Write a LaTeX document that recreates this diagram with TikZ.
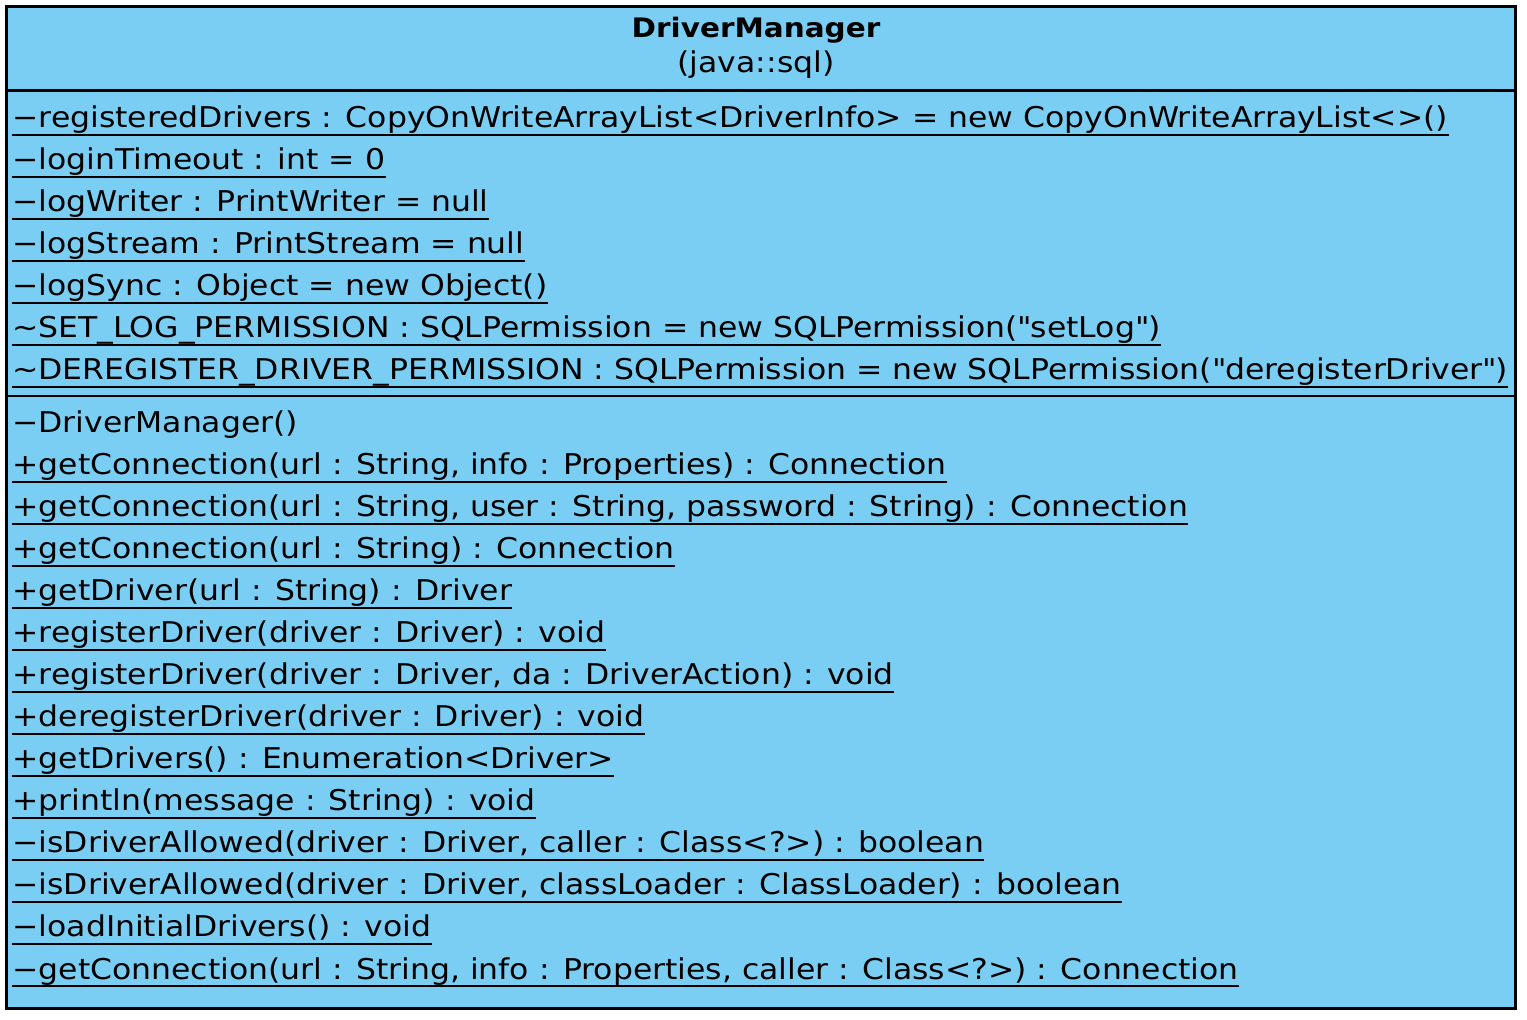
\documentclass[tikz,border=0pt]{standalone}
\usepackage{fontspec}
\setmainfont{DejaVu Sans}[FakeStretch=1.1]
\usetikzlibrary{positioning}
\definecolor{classblue}{RGB}{122,206,243}
\tikzset{
    classbox/.style={
        draw,
        line width=1.6pt,
        fill=classblue},
    compart/.style={
        line width=1.1pt},
    member/.style={
        anchor=base west,
        inner sep=0pt,
        font=\fontsize{14.3}{17}\selectfont},
    classname/.style={
        anchor=base,
        inner sep=0pt,
        font=\fontsize{13.4}{17}\selectfont\bfseries},
    uline/.style={
        line width=1.2pt}}

\begin{document}
\begin{tikzpicture}[x=0.5pt,y=-0.5pt]
        \useasboundingbox (0,0) rectangle (1527,1020);
        \draw[classbox] (6.5,6.5) rectangle (1515.5,1008.5);
        \draw[compart] (6.5,90.5) -- (1515.5,90.5);
        \draw[compart] (6.5,396) -- (1515.5,396);

        \node[classname] (name) at (756,38) {DriverManager};
        \node[classname,font=\fontsize{14.3}{17}\selectfont] (pkg) at (756,73) {(java::sql)};

        % attributes
        \node[member] (a1) at (12,128) {−registeredDrivers : CopyOnWriteArrayList<DriverInfo> = new CopyOnWriteArrayList<>()};
        \node[member] (a2) at (12,170) {−loginTimeout : int = 0};
        \node[member] (a3) at (12,212) {−logWriter : PrintWriter = null};
        \node[member] (a4) at (12,254) {−logStream : PrintStream = null};
        \node[member] (a5) at (12,296) {−logSync : Object = new Object()};
        \node[member] (a6) at (12,338) {\textasciitilde SET\_LOG\_PERMISSION : SQLPermission = new SQLPermission(\textquotedbl setLog\textquotedbl)};
        \node[member] (a7) at (12,380) {\textasciitilde DEREGISTER\_DRIVER\_PERMISSION : SQLPermission = new SQLPermission(\textquotedbl deregisterDriver\textquotedbl)};

        % operations
        \node[member] (m1) at (12,433) {−DriverManager()};
        \node[member] (m2) at (12,475) {+getConnection(url : String, info : Properties) : Connection};
        \node[member] (m3) at (12,517) {+getConnection(url : String, user : String, password : String) : Connection};
        \node[member] (m4) at (12,559) {+getConnection(url : String) : Connection};
        \node[member] (m5) at (12,601) {+getDriver(url : String) : Driver};
        \node[member] (m6) at (12,643) {+registerDriver(driver : Driver) : void};
        \node[member] (m7) at (12,685) {+registerDriver(driver : Driver, da : DriverAction) : void};
        \node[member] (m8) at (12,727) {+deregisterDriver(driver : Driver) : void};
        \node[member] (m9) at (12,769) {+getDrivers() : Enumeration<Driver>};
        \node[member] (m10) at (12,811) {+println(message : String) : void};
        \node[member] (m11) at (12,853) {−isDriverAllowed(driver : Driver, caller : Class<?>) : boolean};
        \node[member] (m12) at (12,895) {−isDriverAllowed(driver : Driver, classLoader : ClassLoader) : boolean};
        \node[member] (m13) at (12,937) {−loadInitialDrivers() : void};
        \node[member] (m14) at (12,979) {−getConnection(url : String, info : Properties, caller : Class<?>) : Connection};

        % static members are underlined
        \foreach \i in {1,...,7}
            \draw[uline] ([yshift=-3.5pt]a\i.base west) -- ([yshift=-3.5pt]a\i.base east);
        \foreach \i in {2,...,14}
            \draw[uline] ([yshift=-3.5pt]m\i.base west) -- ([yshift=-3.5pt]m\i.base east);
    \end{tikzpicture}
\end{document}
